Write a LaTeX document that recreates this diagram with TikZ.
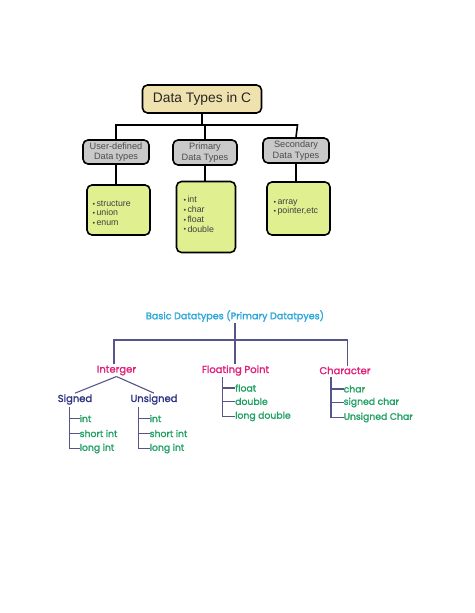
\documentclass[tikz,border=0pt]{standalone}
\usepackage{fontspec}
\setmainfont{Liberation Sans}
\newfontfamily\roundfont[FakeBold=1.5]{Poppins}
\definecolor{beige}{HTML}{F0E2AE}
\definecolor{grayb}{HTML}{C9C9C9}
\definecolor{greenb}{HTML}{E0F090}
\definecolor{ttl}{HTML}{2BA6DA}
\definecolor{mag}{HTML}{E0207C}
\definecolor{navy}{HTML}{2E3384}
\definecolor{itm}{HTML}{1FA162}
\definecolor{ln}{HTML}{55558A}
\newcommand{\bt}{\raisebox{0.25ex}{\scalebox{0.55}{$\bullet$}}\,}
\begin{document}
\begin{tikzpicture}[x=1pt,y=-1pt,
  box/.style={draw=black,line width=1.6pt,rounded corners=5pt,inner sep=0pt},
  conn/.style={draw=black,line width=1.6pt},
  tl/.style={draw=ln,line width=1.1pt},
  cat/.style={font=\roundfont\fontsize{10}{12}\selectfont,text=mag,inner sep=1pt},
  sub/.style={font=\roundfont\fontsize{10}{12}\selectfont,text=navy,inner sep=1pt},
  item/.style={font=\roundfont\fontsize{9.3}{11}\selectfont,text=itm,inner sep=0pt,anchor=west},
  gtxt/.style={font=\fontsize{9.2}{10.5}\selectfont,align=center,text=black!70},
  bul/.style={font=\fontsize{8.8}{10.2}\selectfont,text=black!75,align=left}]
\useasboundingbox (0,0) rectangle (474,613);
\fill[white] (0,0) rectangle (474,613);
% ---------- top diagram ----------
\node[box,fill=beige,minimum width=119pt,minimum height=28pt,font=\fontsize{13.8}{16}\selectfont,text=black!85] (root) at (202,99) {Data Types in C};
\node[box,fill=grayb,minimum width=66pt,minimum height=24pt,gtxt] (ud) at (116,152) {User-defined\\Data types};
\node[box,fill=grayb,minimum width=64pt,minimum height=25pt,gtxt] (pd) at (205,152.5) {Primary\\Data Types};
\node[box,fill=grayb,minimum width=66pt,minimum height=25pt,gtxt] (sd) at (296,150.5) {Secondary\\Data Types};
\node[box,fill=greenb,minimum width=63pt,minimum height=50pt] (ug) at (118.5,210) {};
\node[box,fill=greenb,minimum width=59pt,minimum height=71pt] (pg) at (206,217) {};
\node[box,fill=greenb,minimum width=63pt,minimum height=53pt] (sg) at (298.5,208.5) {};
\node[bul,anchor=north west] (ugt) at (89,197) {\bt structure\\[-0.5pt]\bt union\\[-0.5pt]\bt enum};
\node[bul,anchor=north west] (pgt) at (180,193) {\bt int\\[-0.5pt]\bt char\\[-0.5pt]\bt float\\[-0.5pt]\bt double};
\node[bul,anchor=north west] (sgt) at (270,196) {\bt array\\[-0.5pt]\bt pointer,etc};
\coordinate (hl) at (116,125);
\coordinate (hr) at (297.5,125);
\draw[conn] (root.south) -- (root.south |- hl);
\draw[conn] (ud.north) -- (hl) -- (hr) -- (sd.north);
\draw[conn] (pd.north) -- (pd.north |- hl);
\draw[conn] (ud.south) -- (ug.north -| ud.south);
\draw[conn] (pd.south) -- (pg.north -| pd.south);
\draw[conn] (sd.south) -- (sg.north -| sd.south);
% ---------- bottom diagram ----------
\node[font=\roundfont\fontsize{9.6}{11}\selectfont,text=ttl,inner sep=1pt] (btl) at (235,316) {Basic Datatypes (Primary Datatpyes)};
\node[cat] (int) at (116.5,370.5) {Interger};
\node[cat] (flt) at (235.5,370.5) {Floating Point};
\node[cat] (chr) at (345,370.5) {Character};
\node[sub] (sg1) at (75,399.5) {Signed};
\node[sub] (us1) at (154,399.5) {Unsigned};
\coordinate (bl) at (114,340);
\coordinate (br) at (347.5,340);
\draw[tl] (btl.south) -- (235,340);
\draw[tl] (int.north -| bl) -- (bl) -- (br) -- (chr.north -| br);
\draw[tl] (235,340) -- (flt.north -| 235,0);
\draw[tl] (int.south) -- (sg1.north);
\draw[tl] (int.south) -- (us1.north);
% signed items
\node[item] (s1) at (79.5,418.5) {int};
\node[item] (s2) at (79.5,433.5) {short int};
\node[item] (s3) at (79.5,448.5) {long int};
\draw[tl] (69.5,406.5) |- (s3.west);
\draw[tl] (69.5,418.5) -- (s1.west);
\draw[tl] (69.5,433.5) -- (s2.west);
% unsigned items
\node[item] (u1) at (149.5,418.5) {int};
\node[item] (u2) at (149.5,433.5) {short int};
\node[item] (u3) at (149.5,448.5) {long int};
\draw[tl] (138.5,406.5) |- (u3.west);
\draw[tl] (138.5,418.5) -- (u1.west);
\draw[tl] (138.5,433.5) -- (u2.west);
% floating items
\node[item] (f1) at (235,388) {float};
\node[item] (f2) at (235,401.5) {double};
\node[item] (f3) at (235,416.5) {long double};
\draw[tl] (222.5,376.5) |- (f3.west);
\draw[tl] (222.5,388) -- (f1.west);
\draw[tl] (222.5,401.5) -- (f2.west);
% character items
\node[item] (c1) at (343.5,389) {char};
\node[item] (c2) at (343.5,402.5) {signed char};
\node[item] (c3) at (343.5,417.5) {Unsigned Char};
\draw[tl] (331,376.5) |- (c3.west);
\draw[tl] (331,389) -- (c1.west);
\draw[tl] (331,402.5) -- (c2.west);
\end{tikzpicture}
\end{document}
